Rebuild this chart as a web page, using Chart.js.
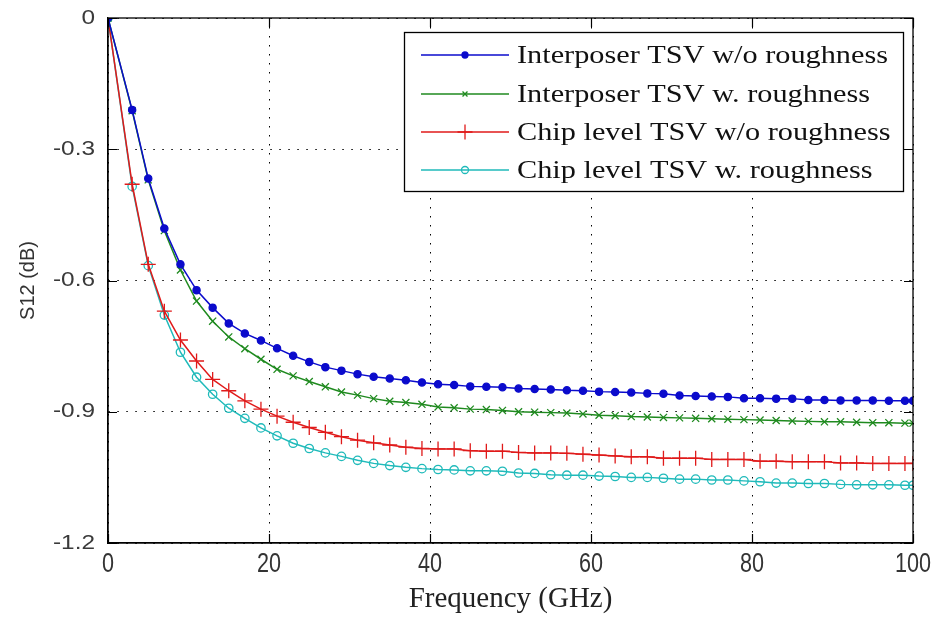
<!DOCTYPE html>
<html><head><meta charset="utf-8">
<script src="https://cdn.jsdelivr.net/npm/chart.js@4.4.1/dist/chart.umd.min.js"></script>
<style>html,body{margin:0;padding:0;background:#fff;}#wrap{width:940px;height:617px;}</style>
</head><body><div id="wrap"><canvas id="c" width="940" height="617"></canvas></div>
<script>
const freqGHz = [0,3,5,7,9,11,13,15,17,19,21,23,25,27,29,31,33,35,37,39,41,43,45,47,49,51,53,55,57,59,61,63,65,67,69,71,73,75,77,79,81,83,85,87,89,91,93,95,97,99,100];

const interposerNoRough = [0,-0.210,-0.367,-0.481,-0.563,-0.622,-0.662,-0.698,-0.721,-0.737,-0.755,-0.772,-0.786,-0.798,-0.806,-0.814,-0.820,-0.824,-0.828,-0.833,-0.837,-0.839,-0.842,-0.843,-0.844,-0.847,-0.848,-0.849,-0.851,-0.852,-0.854,-0.855,-0.856,-0.858,-0.859,-0.863,-0.864,-0.865,-0.866,-0.869,-0.869,-0.870,-0.870,-0.873,-0.873,-0.874,-0.874,-0.874,-0.875,-0.875,-0.875];

const interposerRough = [0,-0.212,-0.370,-0.486,-0.576,-0.647,-0.693,-0.729,-0.756,-0.780,-0.803,-0.818,-0.831,-0.843,-0.855,-0.862,-0.870,-0.876,-0.879,-0.883,-0.889,-0.891,-0.894,-0.895,-0.897,-0.900,-0.901,-0.902,-0.903,-0.905,-0.908,-0.909,-0.911,-0.912,-0.913,-0.914,-0.915,-0.916,-0.917,-0.918,-0.919,-0.920,-0.921,-0.922,-0.923,-0.923,-0.924,-0.925,-0.925,-0.926,-0.926];

const chipNoRough = [0,-0.380,-0.563,-0.670,-0.736,-0.784,-0.826,-0.852,-0.875,-0.894,-0.910,-0.924,-0.936,-0.947,-0.957,-0.965,-0.971,-0.976,-0.981,-0.984,-0.985,-0.985,-0.989,-0.990,-0.990,-0.993,-0.994,-0.994,-0.995,-0.997,-0.999,-1.001,-1.003,-1.003,-1.006,-1.006,-1.006,-1.009,-1.009,-1.009,-1.013,-1.013,-1.014,-1.014,-1.014,-1.017,-1.017,-1.018,-1.018,-1.018,-1.018];

const chipRough = [0,-0.385,-0.566,-0.679,-0.764,-0.821,-0.860,-0.892,-0.915,-0.937,-0.955,-0.972,-0.984,-0.994,-1.002,-1.011,-1.018,-1.023,-1.027,-1.030,-1.032,-1.033,-1.035,-1.035,-1.036,-1.040,-1.041,-1.044,-1.045,-1.045,-1.047,-1.048,-1.050,-1.050,-1.052,-1.054,-1.054,-1.056,-1.056,-1.058,-1.060,-1.063,-1.063,-1.064,-1.064,-1.066,-1.067,-1.067,-1.067,-1.068,-1.068];

const seriesLabels = ['Interposer TSV w/o roughness','Interposer TSV w. roughness','Chip level TSV w/o roughness','Chip level TSV w. roughness'];
const xTicks = [0,20,40,60,80,100];
const yTicks = [0,-0.3,-0.6,-0.9,-1.2];
const yTickLabels = ['0','-0.3','-0.6','-0.9','-1.2'];

const toPts = arr => arr.map((v,i)=>({x:freqGHz[i], y:v}));

const styles = [
  {color:'#0b0bcc', pointStyle:'circle', radius:3.6, fill:'#0b0bcc'},
  {color:'#1f8a1f', pointStyle:'crossRot', radius:5, fill:'#1f8a1f'},
  {color:'#e01a1a', pointStyle:'cross', radius:7.5, fill:'#e01a1a'},
  {color:'#1fbaba', pointStyle:'circle', radius:4.2, fill:'rgba(0,0,0,0)'}
];
const seriesData = [interposerNoRough, interposerRough, chipNoRough, chipRough];

const datasets = seriesData.map((arr,k)=>({
  label: seriesLabels[k],
  data: toPts(arr),
  borderColor: styles[k].color,
  backgroundColor: styles[k].fill,
  borderWidth: 1.5,
  pointStyle: styles[k].pointStyle,
  pointRadius: styles[k].radius,
  pointBorderColor: styles[k].color,
  pointBackgroundColor: styles[k].fill,
  pointBorderWidth: 1.3,
  tension: 0,
  fill: false
}));

const framePlugin = {
  id:'frame',
  afterDatasetsDraw(chart){
    const {ctx, chartArea:a, scales:{x,y}} = chart;
    ctx.save();
    ctx.strokeStyle = '#000';
    ctx.lineWidth = 1.3;
    ctx.setLineDash([]);
    ctx.strokeRect(a.left, a.top, a.right-a.left, a.bottom-a.top);
    ctx.lineWidth = 1.2;
    ctx.beginPath();
    xTicks.forEach(v=>{
      const px = Math.round(x.getPixelForValue(v))+0.5;
      ctx.moveTo(px, a.bottom); ctx.lineTo(px, a.bottom-9);
      ctx.moveTo(px, a.top); ctx.lineTo(px, a.top+9);
    });
    yTicks.forEach(v=>{
      const py = Math.round(y.getPixelForValue(v))+0.5;
      ctx.moveTo(a.left, py); ctx.lineTo(a.left+9, py);
      ctx.moveTo(a.right, py); ctx.lineTo(a.right-9, py);
    });
    ctx.stroke();
    // tick labels
    ctx.fillStyle = '#333';
    ctx.font = '27px "Liberation Sans", Arial, sans-serif';
    ctx.textAlign = 'center';
    ctx.textBaseline = 'top';
    xTicks.forEach(v=>{
      const px = x.getPixelForValue(v);
      ctx.save(); ctx.translate(px, a.bottom+8); ctx.scale(0.8,1); ctx.fillText(String(v),0,0); ctx.restore();
    });
    ctx.fillStyle = '#3a3a3a';
    ctx.font = '20px "Liberation Sans", Arial, sans-serif';
    ctx.textAlign = 'right';
    ctx.textBaseline = 'middle';
    yTicks.forEach((v,i)=>{
      const py = y.getPixelForValue(v);
      ctx.save(); ctx.translate(a.left-13, py); ctx.scale(1.22,1); ctx.fillText(yTickLabels[i],0,0); ctx.restore();
    });
    ctx.restore();
  },
  afterDraw(chart){
    const ctx = chart.ctx;
    const bx = 404, by = 32, bw = 499, bh = 159;
    ctx.save();
    ctx.fillStyle = '#fff';
    ctx.fillRect(bx, by, bw, bh);
    ctx.strokeStyle = '#000';
    ctx.lineWidth = 1.3;
    ctx.strokeRect(bx+0.5, by+0.5, bw, bh);
    ctx.font = '26px "Liberation Serif", "Times New Roman", serif';
    const w0 = ctx.measureText(seriesLabels[0]).width;
    const sx = 371 / w0;
    const rows = [55, 94, 132, 170];
    chart.data.datasets.forEach((ds,k)=>{
      const yy = rows[k];
      ctx.strokeStyle = ds.borderColor;
      ctx.lineWidth = 1.5;
      ctx.beginPath(); ctx.moveTo(421, yy); ctx.lineTo(509, yy); ctx.stroke();
      ctx.fillStyle = ds.pointBackgroundColor;
      ctx.strokeStyle = ds.pointBorderColor;
      ctx.lineWidth = 1.3;
      const r = k===0 ? 3 : (k===2 ? 7.5 : 3.5);
      Chart.helpers.drawPoint(ctx, {pointStyle: ds.pointStyle, radius: r, rotation: 0, borderWidth: 1.3}, 465, yy);
      ctx.fillStyle = '#111';
      ctx.textBaseline = 'middle';
      ctx.save();
      ctx.translate(517, yy+1);
      ctx.scale(sx, 1);
      ctx.fillText(ds.label, 0, 0);
      ctx.restore();
    });
    ctx.restore();
  }
};

new Chart(document.getElementById('c'), {
  type:'line',
  data:{datasets},
  options:{
    responsive:false,
    animation:false,
    devicePixelRatio:1,
    layout:{padding:{top:18, right:27, left:0, bottom:0}},
    plugins:{legend:{display:false}, tooltip:{enabled:false}},
    scales:{
      x:{
        type:'linear', min:0, max:100,
        afterBuildTicks(s){ s.ticks = xTicks.map(v=>({value:v})); },
        afterFit(s){ s.height = 74; },
        ticks:{ display:false },
        grid:{ color:'#000', lineWidth:1, drawTicks:false },
        border:{ display:true, color:'#000', width:1.3, dash:[1.5,7.5] },
        title:{ display:true, text:'Frequency (GHz)', color:'#222', font:{family:'"Liberation Serif", "Times New Roman", serif', size:29}, padding:{top:0, bottom:0} }
      },
      y:{
        type:'linear', min:-1.2, max:0,
        afterBuildTicks(s){ s.ticks = yTicks.map(v=>({value:v})); },
        afterFit(s){ s.width = 108; },
        ticks:{ display:false },
        grid:{ color:'#000', lineWidth:1, drawTicks:false },
        border:{ display:true, color:'#000', width:1.3, dash:[1.5,7.5] },
        title:{ display:true, text:'S12 (dB)', color:'#333', font:{family:'"Liberation Sans", Arial, sans-serif', size:20}, padding:{top:16, bottom:0} }
      }
    }
  },
  plugins:[framePlugin]
});
</script>
</body></html>
